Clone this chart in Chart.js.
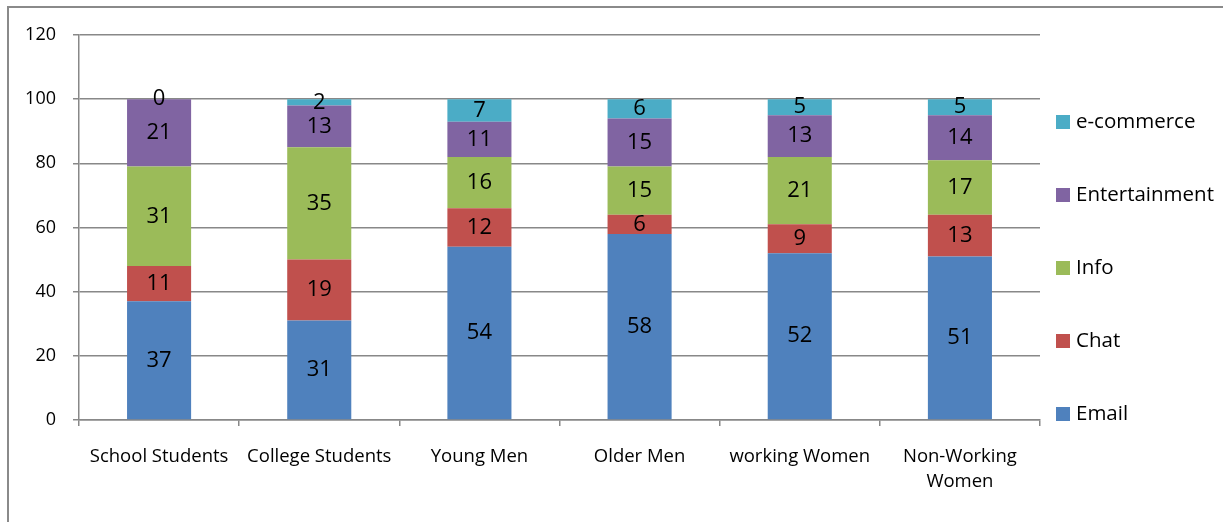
<!DOCTYPE html>
<html>
<head>
<meta charset="utf-8">
<script src="https://cdn.jsdelivr.net/npm/chart.js@4.4.0/dist/chart.umd.min.js"></script>
<style>
  html, body { margin: 0; padding: 0; background: #fff; }
  #wrap { position: relative; width: 1223px; height: 522px; overflow: hidden; }
  #frame { position: absolute; left: 7px; top: 6px; width: 1300px; height: 600px;
           border-left: 2px solid #8a8a8a; border-top: 2px solid #8a8a8a; box-sizing: border-box; }
  canvas { position: absolute; left: 0; top: 0; }
</style>
</head>
<body>
<div id="wrap">
  <div id="frame"></div>
  <canvas id="c" width="1223" height="522"></canvas>
</div>
<script>
const categories = ["School Students", "College Students", "Young Men", "Older Men", "working Women", ["Non-Working", "Women"]];
const seriesNames = ["Email", "Chat", "Info", "Entertainment", "e-commerce"];
const email = [37, 31, 54, 58, 52, 51];
const chat = [11, 19, 12, 6, 9, 13];
const info = [31, 35, 16, 15, 21, 17];
const entertainment = [21, 13, 11, 15, 13, 14];
const ecommerce = [0, 2, 7, 6, 5, 5];
const yTicks = [0, 20, 40, 60, 80, 100, 120];
const colors = ["#4F81BD", "#C0504D", "#9BBB59", "#8064A2", "#4BACC6"];

const FONT = "'Open Sans', Lato, sans-serif";
const seriesValues = [email, chat, info, entertainment, ecommerce];

const datasets = seriesValues.map((vals, i) => ({
  label: seriesNames[i],
  data: vals,
  backgroundColor: colors[i],
  borderWidth: 0,
  barPercentage: 0.4,
  categoryPercentage: 1.0
}));

const valueLabels = {
  id: 'valueLabels',
  afterDatasetsDraw(chart) {
    const ctx = chart.ctx;
    ctx.save();
    ctx.fillStyle = '#000';
    ctx.font = "22px " + FONT;
    ctx.textAlign = 'center';
    ctx.textBaseline = 'middle';
    chart.data.datasets.forEach((ds, di) => {
      const meta = chart.getDatasetMeta(di);
      meta.data.forEach((bar, i) => {
        const y = (bar.y + bar.base) / 2;
        ctx.fillText(String(ds.data[i]), bar.x, y);
      });
    });
    ctx.restore();
  }
};

const sideLegend = {
  id: 'sideLegend',
  afterDraw(chart) {
    const ctx = chart.ctx;
    const area = chart.chartArea;
    ctx.save();
    ctx.font = "20.5px " + FONT;
    ctx.textBaseline = 'middle';
    ctx.textAlign = 'left';
    const n = chart.data.datasets.length;
    const step = 73;
    const firstY = 122;
    const bx = area.right + 16;
    for (let k = 0; k < n; k++) {
      const di = n - 1 - k;
      const ds = chart.data.datasets[di];
      const cy = firstY + k * step;
      ctx.fillStyle = ds.backgroundColor;
      ctx.fillRect(bx, cy - 7, 14, 14);
      ctx.fillStyle = '#000';
      ctx.fillText(ds.label, bx + 20, cy);
    }
    ctx.restore();
  }
};

new Chart(document.getElementById('c'), {
  type: 'bar',
  data: { labels: categories, datasets },
  options: {
    responsive: false,
    animation: false,
    layout: { padding: { left: 0, right: 183, top: 35, bottom: 0 } },
    plugins: { legend: { display: false }, tooltip: { enabled: false } },
    scales: {
      x: {
        stacked: true,
        offset: true,
        grid: { display: true, drawOnChartArea: false, offset: true, tickLength: 6, color: '#888', lineWidth: 1.5 },
        border: { display: true, color: '#888', width: 1.5 },
        ticks: { color: '#000', font: { size: 18.5, family: FONT, lineHeight: 1.35 }, padding: 18, maxRotation: 0, autoSkip: false },
        afterFit(scale) { scale.height = 102; }
      },
      y: {
        stacked: true,
        min: 0, max: 120,
        afterBuildTicks(scale) { scale.ticks = yTicks.map(v => ({ value: v })); },
        grid: { color: '#888', lineWidth: 1.5, tickLength: 6, drawTicks: true },
        border: { display: true, color: '#888', width: 1.5 },
        ticks: { color: '#000', font: { size: 18, family: FONT }, padding: 17 },
        afterFit(scale) { scale.width = 79; }
      }
    }
  },
  plugins: [valueLabels, sideLegend]
});
</script>
</body>
</html>
